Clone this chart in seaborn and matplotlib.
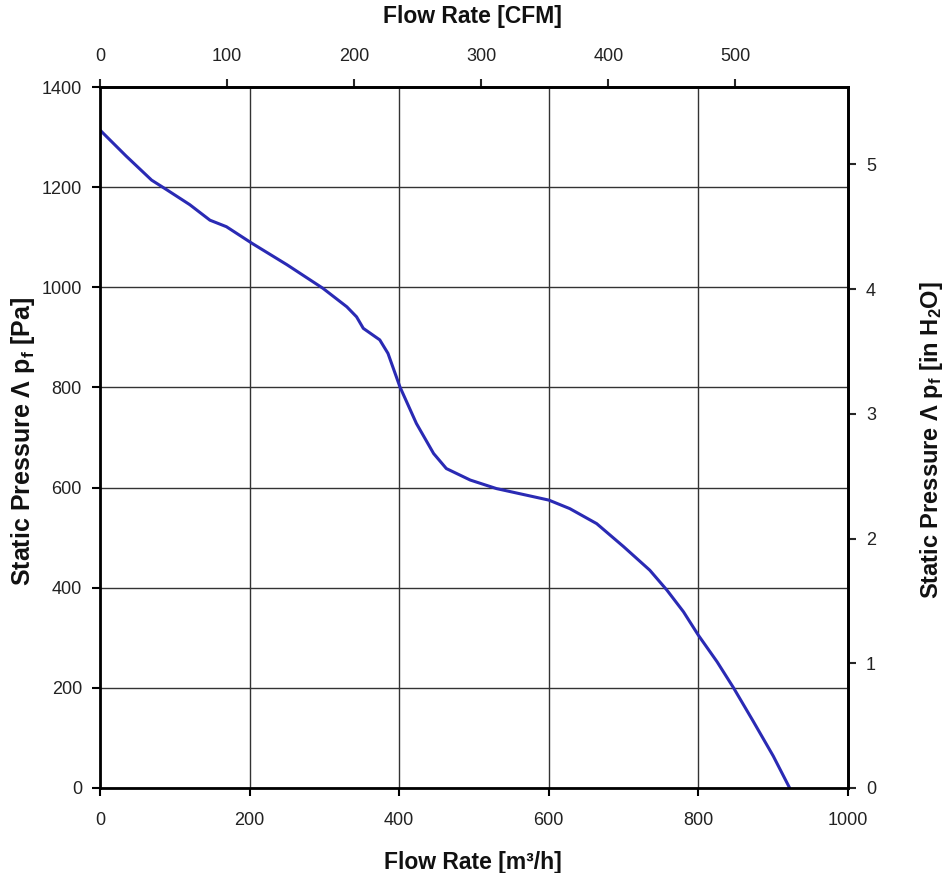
import matplotlib
matplotlib.use("Agg")
import matplotlib.pyplot as plt
import seaborn as sns
import pandas as pd

flow_m3h = [0, 35, 69, 89, 120, 147, 169, 203, 250, 298, 330, 343, 352, 374, 385, 401,
            423, 446, 463, 495, 530, 600, 628, 664, 700, 735, 758, 780, 800, 825, 847, 873, 900, 922]
pressure_pa = [1314, 1262, 1214, 1195, 1165, 1134, 1121, 1088, 1045, 998, 961, 941, 918, 895, 868, 801,
               728, 668, 638, 615, 598, 575, 558, 528, 482, 435, 395, 352, 305, 252, 200, 134, 64, 0]

x_ticks = [0, 200, 400, 600, 800, 1000]
y_ticks = [0, 200, 400, 600, 800, 1000, 1200, 1400]
cfm_ticks = [0, 100, 200, 300, 400, 500]
inh2o_ticks = [0, 1, 2, 3, 4, 5]

M3H_PER_CFM = 1.699
PA_PER_INH2O = 249.089

sns.set_style("white")
plt.rcParams['font.family'] = ['Liberation Sans', 'DejaVu Sans']
plt.rcParams['mathtext.fontset'] = 'custom'
plt.rcParams['mathtext.rm'] = 'Liberation Sans:bold'
plt.rcParams['mathtext.it'] = 'Liberation Sans:bold'
plt.rcParams['mathtext.bf'] = 'Liberation Sans:bold'

df = pd.DataFrame({"flow": flow_m3h, "pressure": pressure_pa})

W, H = 946, 873
fig = plt.figure(figsize=(W / 100, H / 100), dpi=100)
ax = fig.add_axes([100 / W, 1 - 788 / H, 748 / W, 701 / H])

sns.lineplot(data=df, x="flow", y="pressure", ax=ax, color="#2a2ab4", linewidth=2.2, sort=False)

ax.set_xlim(0, 1000)
ax.set_ylim(0, 1400)
ax.set_xticks(x_ticks)
ax.set_yticks(y_ticks)
ax.set_xlabel("")
ax.set_ylabel("")
ax.grid(True, color="#333333", linewidth=1.0)
for s in ax.spines.values():
    s.set_visible(True)
    s.set_color("black")
    s.set_linewidth(2.0)
ax.tick_params(axis='x', direction='out', length=6, width=1.5, color='black',
               labelsize=13, labelcolor='#222222', bottom=True, pad=11)
ax.tick_params(axis='y', direction='out', length=6, width=1.5, color='black',
               labelsize=13, labelcolor='#222222', left=True, pad=7)

secx = ax.secondary_xaxis('top', functions=(lambda v: v / M3H_PER_CFM, lambda v: v * M3H_PER_CFM))
secx.set_xticks(cfm_ticks)
secx.tick_params(direction='out', length=6, width=1.5, labelsize=13, labelcolor='#222222', pad=10)

secy = ax.secondary_yaxis('right', functions=(lambda v: v / PA_PER_INH2O, lambda v: v * PA_PER_INH2O))
secy.set_yticks(inh2o_ticks)
secy.tick_params(direction='out', length=6, width=1.5, labelsize=13, labelcolor='#222222', pad=7)
for s in list(secx.spines.values()) + list(secy.spines.values()):
    s.set_linewidth(2.0)

lab = dict(fontweight='bold', color='#111111', ha='center', va='center')
fig.text(472 / W, 1 - 16 / H, "Flow Rate [CFM]", fontsize=16.5, **lab)
fig.text(473 / W, 1 - 862 / H, "Flow Rate [m³/h]", fontsize=16.5, **lab)
fig.text(23 / W, 1 - 441 / H, "Static Pressure Λ p$_{f}$ [Pa]", rotation=90, fontsize=18, **lab)
fig.text(931 / W, 1 - 440 / H, "Static Pressure Λ p$_{f}$ [in H$_{2}$O]", rotation=90, fontsize=17, **lab)

fig.savefig("out.png", dpi=100, facecolor='white')
